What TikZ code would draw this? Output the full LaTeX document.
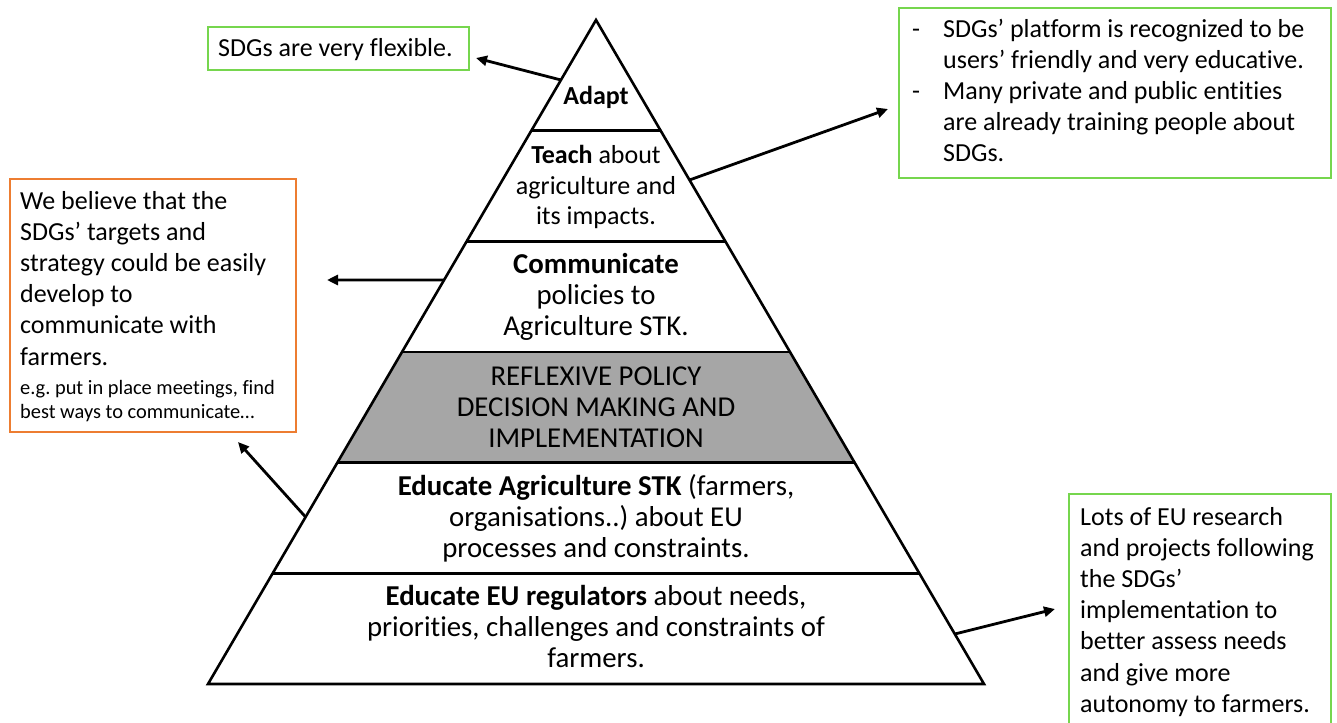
\documentclass[tikz,border=0pt]{standalone}
\usepackage{fontspec}
\setmainfont{Carlito}[Ligatures=NoCommon]
\usetikzlibrary{arrows.meta,calc}
\definecolor{boxgreen}{RGB}{118,214,78}
\definecolor{boxorange}{RGB}{237,125,49}
\definecolor{bandgray}{RGB}{166,166,166}
\tikzset{
  pyr/.style={line width=2.6pt, line join=miter},
  conn/.style={line width=2.8pt, -{Triangle[length=11pt,width=10pt]}},
  gbox/.style={draw=boxgreen, line width=2.2pt, anchor=north west, inner sep=0pt},
  obox/.style={draw=boxorange, line width=2.2pt, anchor=north west, inner sep=0pt},
  tiertext/.style={font=\frenchspacing\fontsize{26}{30.5}\selectfont, anchor=base, align=flush center, text width=560pt, inner sep=0pt},
  tierbig/.style={tiertext, font=\frenchspacing\fontsize{28.8}{31}\selectfont},
  boxtext/.style={font=\frenchspacing\fontsize{26}{31.2}\selectfont, anchor=base west, align=flush left, inner sep=0pt},
}
\begin{document}
\begin{tikzpicture}[x=1pt,y=-1pt]
\useasboundingbox (0,0) rectangle (1337,722);
\fill[white] (0,0) rectangle (1337,722);
% pyramid
\coordinate (apex) at (596,20);
\coordinate (bl) at (208,684);
\coordinate (br) at (984,684);
\foreach \k in {1,...,5}{
  \coordinate (L\k) at ($(apex)!\k/6!(bl)$);
  \coordinate (R\k) at ($(apex)!\k/6!(br)$);
}
\fill[bandgray] (L3)--(R3)--(R4)--(L4)--cycle;
\draw[pyr] (apex)--(br)--(bl)--cycle;
\foreach \k in {1,...,5}{\draw[pyr] (L\k)--(R\k);}
% tier texts
\node[tiertext] (t1) at (596,105) {\textbf{Adapt}};
\node[tiertext] (t2) at (596,164) {\textbf{Teach} about\\agriculture and\\its impacts.};
\node[tierbig] (t3) at (596,273) {\textbf{Communicate}\\policies to\\Agriculture STK.};
\node[tierbig] (t4) at (596,385) {REFLEXIVE POLICY\\DECISION MAKING AND\\IMPLEMENTATION};
\node[tierbig] (t5) at (596,495) {\textbf{Educate Agriculture STK} (farmers,\\organisations..) about EU\\processes and constraints.};
\node[tierbig] (t6) at (596,605) {\textbf{Educate EU regulators} about needs,\\priorities, challenges and constraints of\\farmers.};
% boxes
\node[gbox, minimum width=261pt, minimum height=43pt] (flexbox) at (207,26) {};
\node[boxtext] (flextext) at (218,57) {SDGs are very flexible.};
\node[gbox, minimum width=432pt, minimum height=170pt] (platbox) at (898,7) {};
\node[boxtext, text width=412pt, font=\frenchspacing\fontsize{26}{30.8}\selectfont] (plattext) at (912,38) {\makebox[31pt][l]{-}SDGs’ platform is recognized to be\\\hspace*{31pt}users’ friendly and very educative.\\\makebox[31pt][l]{-}Many private and public entities\\\hspace*{31pt}are already training people about\\\hspace*{31pt}SDGs.};
\node[obox, minimum width=286pt, minimum height=253pt] (beliefbox) at (9,178) {};
\node[boxtext, text width=272pt] (belieftext) at (20,209) {We believe that the\\SDGs’ targets and\\strategy could be easily\\develop to\\communicate with\\farmers.\par\vspace{5pt}{\fontsize{20.4}{24}\selectfont e.g. put in place meetings, find\par best ways to communicate…\par}};
\node[gbox, minimum width=262pt, minimum height=260pt] (resbox) at (1068,493) {};
\node[boxtext, text width=252pt] (restext) at (1080,525) {Lots of EU research\\and projects following\\the SDGs’\\implementation to\\better assess needs\\and give more\\autonomy to farmers.};
% connectors
\coordinate (a1s) at ($(apex)!60/664!(bl)$);
\coordinate (a1e) at (476,58);
\coordinate (a2s) at ($(apex)!160/664!(br)$);
\coordinate (a2e) at (888,109);
\coordinate (a3s) at ($(apex)!260/664!(bl)$);
\coordinate (a3e) at (327,280);
\coordinate (a4s) at ($(apex)!497/664!(bl)$);
\coordinate (a4e) at (238,442);
\coordinate (a5s) at ($(apex)!614/664!(br)$);
\coordinate (a5e) at (1055,609);
\draw[conn] (a1s)--(a1e);
\draw[conn] (a2s)--(a2e);
\draw[conn] (a3s)--(a3e);
\draw[conn] (a4s)--(a4e);
\draw[conn] (a5s)--(a5e);
\end{tikzpicture}
\end{document}
